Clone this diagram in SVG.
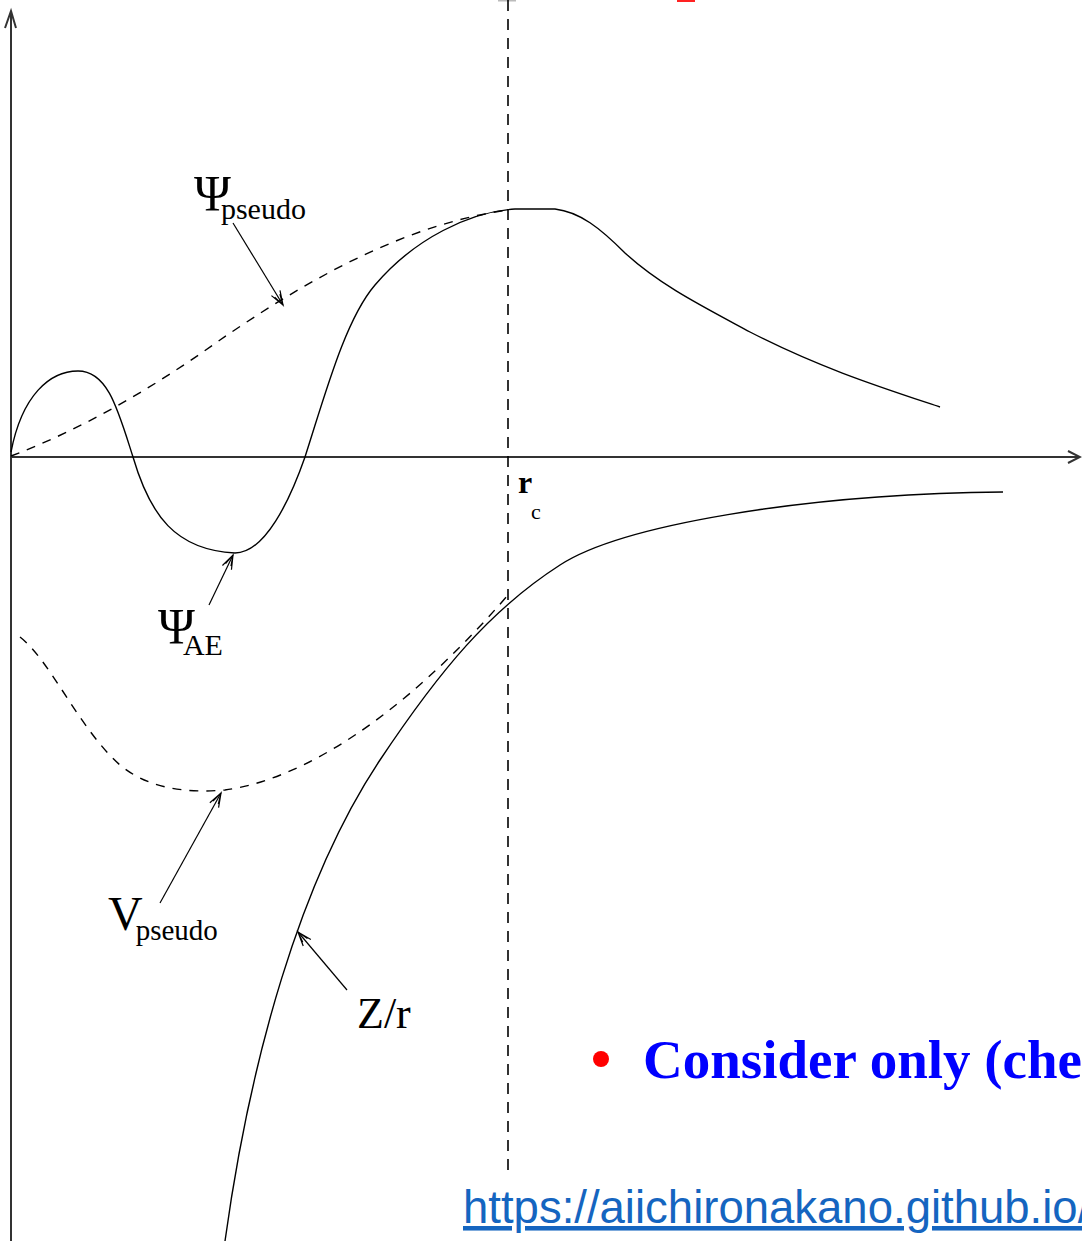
<svg xmlns="http://www.w3.org/2000/svg" width="1082" height="1241" viewBox="0 0 1082 1241">
<style>
.ax{stroke:#333;stroke-width:2;fill:none}
.cv{stroke:#000;stroke-width:1.4;fill:none}
.ds{stroke:#000;stroke-width:1.4;fill:none;stroke-dasharray:9 8}
.ar{stroke:#000;stroke-width:1.2;fill:none;marker-end:url(#oa)}
.lb{font-family:"Liberation Serif","Times New Roman",serif;fill:#000}
</style>
<defs>
<marker id="oa" markerUnits="userSpaceOnUse" markerWidth="18" markerHeight="14" refX="15" refY="6" orient="auto">
<path d="M1,1 L15,6 L1,11 M4,3 L15,6 L4,9" fill="none" stroke="#000" stroke-width="1.2"/>
</marker>
</defs>
<rect width="1082" height="1241" fill="#fff"/>
<rect x="498" y="0" width="18" height="1.5" fill="#bbb"/>
<rect x="677" y="0" width="18" height="2" fill="#f22"/>
<g id="axes">
<line class="ax" x1="11" y1="11" x2="11" y2="1241"/>
<path class="ax" d="M5,28 L11,11 L16,28"/>
<line class="ax" x1="11" y1="457" x2="1080" y2="457"/>
<path class="ax" d="M1068,451 L1080,457 L1068,463"/>
<line x1="508" y1="0" x2="508" y2="1175" stroke="#000" stroke-width="1.6" stroke-dasharray="11 8"/>
</g>
<g id="psi-ae-curve">
<path class="cv" d="M11,452 C22,395 50,371 78,371 C108,371 118,410 133,457 C150,515 175,550 235,553 C265,553 290,500 305,457 C325,395 345,320 375,285 C415,238 470,212 515,209 L555,209 C580,212 600,228 625,253 C660,285 700,305 750,332 C820,368 880,387 940,407"/>
</g>
<g id="psi-pseudo-curve">
<path class="ds" d="M11,456 C80,430 150,390 220,340 C300,285 400,225 508,210"/>
</g>
<g id="v-pseudo-curve">
<path class="ds" d="M20,637 C50,660 80,730 120,765 C150,790 190,793 225,790 C300,780 400,720 508,595"/>
</g>
<g id="zr-curve">
<path class="cv" d="M225,1241 C250,1060 300,880 380,760 C440,670 490,610 560,565 C620,526 800,494 1003,492"/>
</g>
<g id="connectors">
<line class="ar" x1="233" y1="223" x2="283" y2="305"/>
<line class="ar" x1="209" y1="605" x2="233" y2="555"/>
<line class="ar" x1="160" y1="903" x2="221" y2="793"/>
<line class="ar" x1="347" y1="990" x2="298" y2="932"/>
</g>
<g id="label-psi-pseudo">
<text class="lb" x="194" y="210" font-size="50">Ψ<tspan font-size="30" dy="9" dx="-10">pseudo</tspan></text>
</g>
<g id="label-psi-ae">
<text class="lb" x="158" y="643" font-size="50">Ψ<tspan font-size="30" dy="12" dx="-12">AE</tspan></text>
</g>
<g id="label-v-pseudo">
<text class="lb" x="108" y="930" font-size="48">V<tspan font-size="29" dy="10" dx="-7">pseudo</tspan></text>
</g>
<g id="label-zr">
<text class="lb" x="357" y="1028" font-size="44">Z/r</text>
</g>
<g id="label-rc">
<text class="lb" x="518" y="493" font-size="32" font-weight="bold">r</text>
<text class="lb" x="531" y="519" font-size="22">c</text>
</g>
<g id="bullet">
<circle cx="601" cy="1059" r="8" fill="#f00"/>
<text x="643" y="1078" font-family="Liberation Serif,'Times New Roman',serif" font-size="55" font-weight="bold" fill="#0000ff">Consider only (che</text>
</g>
<g id="link">
<text x="463" y="1223" font-family="Liberation Sans,Arial,sans-serif" font-size="45.5" fill="#1565c0" text-decoration="underline">https://aiichironakano.github.io/</text>
</g>
</svg>
